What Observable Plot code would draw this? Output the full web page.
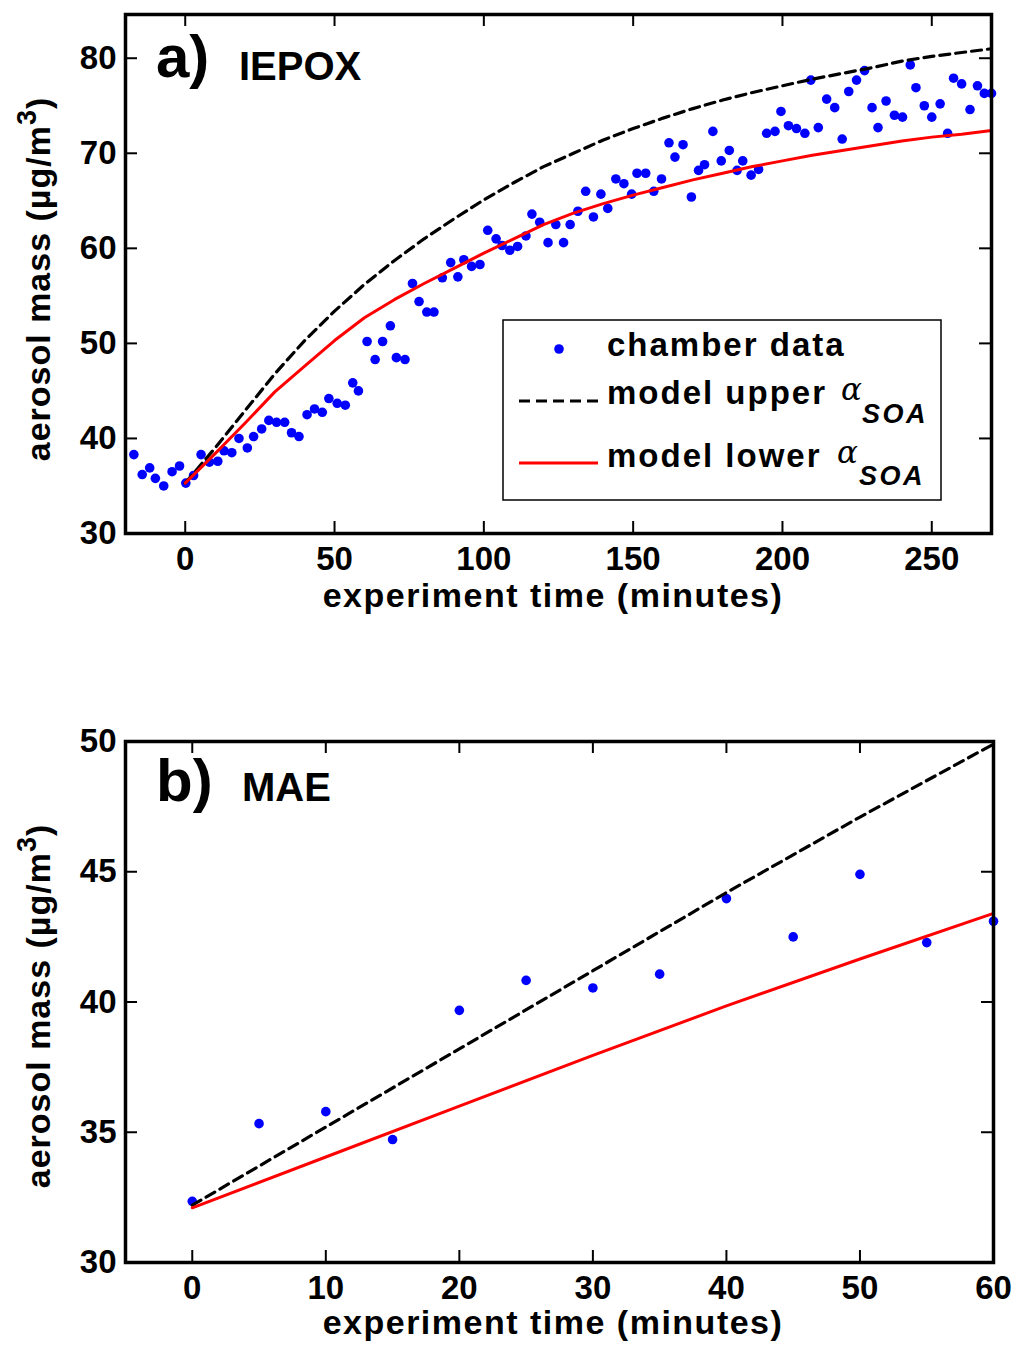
<!DOCTYPE html>
<html>
<head>
<meta charset="utf-8">
<script src="https://cdn.jsdelivr.net/npm/d3@7"></script>
<script src="https://cdn.jsdelivr.net/npm/@observablehq/plot@0.6"></script>
<style>
  html, body { margin: 0; padding: 0; background: #fff; }
  body { width: 1016px; height: 1348px; position: relative; overflow: hidden; }
  #panelA { position: absolute; left: 0; top: 0; }
  #panelB { position: absolute; left: 0; top: 700px; }
</style>
</head>
<body>
<div id="panelA"></div>
<div id="panelB"></div>
<script>
// ---------- Panel a) IEPOX ----------
const iepoxTime = [-17.2, -14.4, -11.9, -10, -7.2, -4.4, -1.9, 0.2, 2.8, 5.3, 8.1, 10.9, 13, 15.6, 18, 20.8, 22.9, 25.6, 28, 30.6,
  33.3, 35.6, 38.1, 40.8, 43.3, 45.9, 48.1, 50.9, 53.6, 56.1, 58, 60.9, 63.6, 66.1, 68.7, 70.7, 73.6, 76.1, 78.3, 80.9,
  83.3, 86.1, 88.9, 91.3, 93.3, 95.9, 98.7, 101.3, 104.1, 106.1, 108.7, 111.3, 114.1, 116.1, 118.7, 121.5, 124.1, 126.7, 128.9, 131.5,
  134.1, 136.7, 139.2, 141.5, 144.2, 146.9, 149.5, 151.3, 154.2, 156.9, 159.5, 162, 164, 166.7, 169.5, 171.9, 173.9, 176.7, 179.5, 182.2,
  184.8, 186.7, 189.5, 192, 194.7, 197.5, 199.5, 202, 204.7, 207.5, 209.5, 212, 214.8, 217.5, 220, 222.2, 224.8, 227.5, 230, 232,
  234.7, 237.5, 240.2, 242.8, 244.7, 247.5, 250, 252.8, 255.3, 257.3, 260, 262.8, 265.3, 267.6, 270];
const iepoxMass = [38.3, 36.2, 36.9, 35.8, 35.0, 36.5, 37.1, 35.3, 36.1, 38.3, 37.5, 37.6, 38.7, 38.5, 40.0, 39.0, 40.2, 41.0, 41.9, 41.7,
  41.7, 40.6, 40.2, 42.5, 43.1, 42.75, 44.2, 43.7, 43.5, 45.85, 45.0, 50.2, 48.3, 50.2, 51.85, 48.5, 48.3, 56.3, 54.4, 53.3,
  53.3, 56.9, 58.5, 57.0, 58.8, 58.1, 58.3, 61.9, 61.0, 60.3, 59.8, 60.2, 61.3, 63.6, 62.75, 60.6, 62.5, 60.6, 62.5, 63.9,
  66.0, 63.3, 65.7, 64.2, 67.3, 66.8, 65.7, 67.9, 67.9, 66.0, 67.3, 71.1, 69.6, 70.9, 65.4, 68.2, 68.8, 72.3, 69.2, 70.3,
  68.2, 69.2, 67.7, 68.3, 72.1, 72.3, 74.4, 72.9, 72.6, 72.1, 77.7, 72.7, 75.7, 74.8, 71.5, 76.5, 77.7, 78.7, 74.8, 72.7,
  75.5, 74.0, 73.8, 79.3, 76.9, 75.0, 73.8, 75.2, 72.1, 77.9, 77.3, 74.6, 77.1, 76.3, 76.3];
const iepoxModelTime = [0, 10, 20, 30, 40, 50, 60, 70, 80, 90, 100, 110, 120, 130, 140, 150, 160, 170, 180, 190, 200, 210, 220, 230, 240, 250, 260, 270];
const iepoxUpper = [35.3, 39.0, 42.9, 46.8, 50.3, 53.4, 56.2, 58.7, 61.0, 63.1, 65.1, 66.9, 68.6, 70.0, 71.4, 72.6, 73.7, 74.7, 75.6, 76.4, 77.1, 77.8, 78.4, 79.0, 79.7, 80.2, 80.6, 81.0];
const iepoxLower = [35.3, 38.4, 41.6, 44.9, 47.6, 50.3, 52.7, 54.6, 56.3, 57.9, 59.5, 61.0, 62.5, 63.7, 64.7, 65.6, 66.4, 67.2, 67.9, 68.6, 69.2, 69.8, 70.3, 70.8, 71.3, 71.7, 72.0, 72.4];
const iepoxXTicks = [0, 50, 100, 150, 200, 250];
const iepoxYTicks = [30, 40, 50, 60, 70, 80];

// ---------- Panel b) MAE ----------
const maeTime = [0, 5, 10, 15, 20, 25, 30, 35, 40, 45, 50, 55, 60];
const maeMass = [32.35, 35.33, 35.79, 34.72, 39.68, 40.83, 40.54, 41.07, 43.97, 42.5, 44.9, 42.28, 43.1];
const maeModelTime = [0, 10, 20, 30, 40, 50, 60];
const maeUpper = [32.2, 35.2, 38.2, 41.2, 44.2, 47.1, 49.9];
const maeLower = [32.1, 34.05, 36.0, 37.95, 39.85, 41.65, 43.4];
const maeXTicks = [0, 10, 20, 30, 40, 50, 60];
const maeYTicks = [30, 35, 40, 45, 50];

const FONT = "'Liberation Sans', Arial, Helvetica, sans-serif";
const BLUE = "#0000ff", RED = "#ff0000";

function zip(xs, ys) { return xs.map((x, i) => ({x, y: ys[i]})); }

function panel({height, margins, xDomain, yDomain, xTicks, yTicks, points, upper, lower}) {
  const [mt, mr, mb, ml] = margins;
  const W = 1016 - ml - mr, H = height - mt - mb;
  const TL = 12;
  return Plot.plot({
    width: 1016, height,
    marginTop: mt, marginRight: mr, marginBottom: mb, marginLeft: ml,
    style: {fontFamily: FONT, fontSize: "33px", fontWeight: "bold", color: "black", background: "white", overflow: "visible"},
    x: {domain: xDomain, label: null},
    y: {domain: yDomain, label: null},
    marks: [
      Plot.dot(points, {x: "x", y: "y", r: 4.8, fill: BLUE, stroke: "none"}),
      Plot.line(upper, {x: "x", y: "y", stroke: "black", strokeWidth: 3.2, strokeDasharray: "10,6"}),
      Plot.line(lower, {x: "x", y: "y", stroke: RED, strokeWidth: 3}),
      // inward tick marks on all four sides
      Plot.tickX(xTicks, {x: d => d, insetTop: H - TL, stroke: "black", strokeWidth: 2}),
      Plot.tickX(xTicks, {x: d => d, insetBottom: H - TL, stroke: "black", strokeWidth: 2}),
      Plot.tickY(yTicks, {y: d => d, insetRight: W - TL, stroke: "black", strokeWidth: 2}),
      Plot.tickY(yTicks, {y: d => d, insetLeft: W - TL, stroke: "black", strokeWidth: 2}),
      Plot.axisX({ticks: xTicks, anchor: "bottom", tickSize: 0, tickPadding: 13, label: null, tickFormat: d => String(d)}),
      Plot.axisY({ticks: yTicks, anchor: "left", tickSize: 0, tickPadding: 9, label: null, tickFormat: d => String(d)}),
      Plot.frame({stroke: "black", strokeWidth: 3.5})
    ]
  });
}

function addTexts(svg, {xLabelY, yLabelCenter, tag, tagY, name, nameX, nameY}) {
  const s = d3.select(svg);
  s.append("text").attr("x", 553).attr("y", xLabelY).attr("text-anchor", "middle")
    .attr("font-family", FONT).attr("font-weight", "bold").attr("font-size", 34).attr("letter-spacing", 1.5)
    .attr("fill", "black").text("experiment time (minutes)");
  const yl = s.append("text").attr("transform", `translate(50,${yLabelCenter}) rotate(-90)`).attr("text-anchor", "middle")
    .attr("font-family", FONT).attr("font-weight", "bold").attr("font-size", 34).attr("letter-spacing", 1)
    .attr("fill", "black");
  yl.append("tspan").text("aerosol mass (µg/m");
  yl.append("tspan").attr("dy", -14).attr("font-size", 27).text("3");
  yl.append("tspan").attr("dy", 14).text(")");
  s.append("text").attr("x", 156).attr("y", tagY).attr("text-anchor", "start").attr("font-family", FONT).attr("font-weight", "bold")
    .attr("font-size", 60).attr("fill", "black").text(tag);
  s.append("text").attr("x", nameX).attr("y", nameY).attr("text-anchor", "start").attr("font-family", FONT).attr("font-weight", "bold")
    .attr("font-size", 40).attr("fill", "black").text(name);
}

// Panel a
const svgA = panel({
  height: 680, margins: [14, 25, 147, 125],
  xDomain: [-20, 270], yDomain: [30, 84.6],
  xTicks: iepoxXTicks, yTicks: iepoxYTicks,
  points: zip(iepoxTime, iepoxMass), upper: zip(iepoxModelTime, iepoxUpper), lower: zip(iepoxModelTime, iepoxLower)
});
document.getElementById("panelA").appendChild(svgA);
addTexts(svgA, {xLabelY: 607, yLabelCenter: 279, tag: "a)", tagY: 77, name: "IEPOX", nameX: 239, nameY: 80});

// Legend in panel a
{
  const s = d3.select(svgA);
  const g = s.append("g").attr("text-anchor", "start");
  g.append("rect").attr("x", 503).attr("y", 320).attr("width", 438).attr("height", 180)
    .attr("fill", "white").attr("stroke", "black").attr("stroke-width", 1.5);
  g.append("circle").attr("cx", 559).attr("cy", 349).attr("r", 4.8).attr("fill", BLUE);
  g.append("line").attr("x1", 519).attr("x2", 598).attr("y1", 401).attr("y2", 401)
    .attr("stroke", "black").attr("stroke-width", 2.8).attr("stroke-dasharray", "11,6");
  g.append("line").attr("x1", 519).attr("x2", 598).attr("y1", 463).attr("y2", 463)
    .attr("stroke", RED).attr("stroke-width", 3);
  const txt = (x, y, t) => g.append("text").attr("x", x).attr("y", y).attr("text-anchor", "start").attr("font-family", FONT)
    .attr("font-weight", "bold").attr("font-size", 33).attr("letter-spacing", 2).attr("fill", "black").text(t);
  txt(607, 356, "chamber data");
  txt(607, 404, "model upper");
  txt(607, 467, "model lower");
  const alpha = (x, y) => g.append("text").attr("x", x).attr("y", y).attr("text-anchor", "start").attr("font-family", "'DejaVu Serif', serif")
    .attr("font-style", "italic").attr("font-weight", "normal").attr("font-size", 31).attr("fill", "black").text("α");
  const sub = (x, y) => g.append("text").attr("x", x).attr("y", y).attr("text-anchor", "start").attr("font-family", FONT)
    .attr("font-weight", "bold").attr("font-style", "italic").attr("font-size", 27).attr("letter-spacing", 2.5)
    .attr("fill", "black").text("SOA");
  alpha(841, 400); sub(862, 423);
  alpha(837, 463); sub(859, 485);
}

// Panel b
const svgB = panel({
  height: 648, margins: [41, 23, 86, 125],
  xDomain: [-5, 60], yDomain: [30, 50],
  xTicks: maeXTicks, yTicks: maeYTicks,
  points: zip(maeTime, maeMass), upper: zip(maeModelTime, maeUpper), lower: zip(maeModelTime, maeLower)
});
document.getElementById("panelB").appendChild(svgB);
addTexts(svgB, {xLabelY: 634, yLabelCenter: 306, tag: "b)", tagY: 101, name: "MAE", nameX: 242, nameY: 101});
</script>
</body>
</html>
